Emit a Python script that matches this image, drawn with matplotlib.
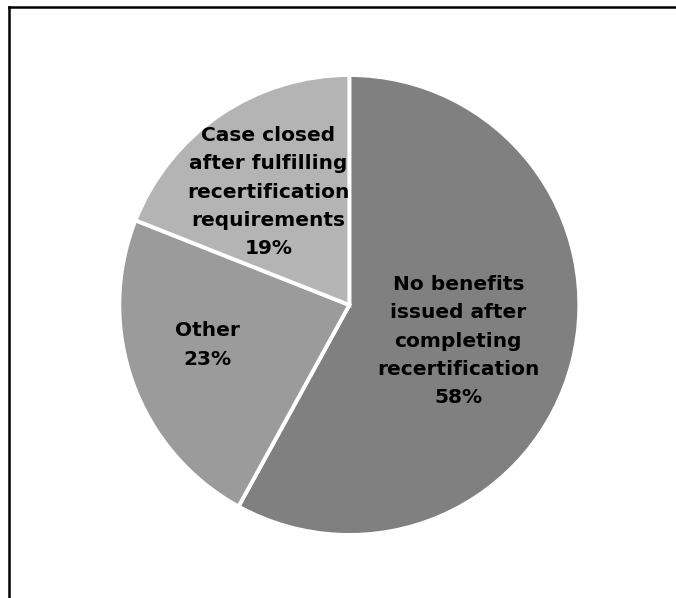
import matplotlib
matplotlib.use('Agg')
import matplotlib.pyplot as plt
from matplotlib.lines import Line2D

# Recertification outcomes
categories = ['No benefits\nissued after\ncompleting\nrecertification',
              'Other',
              'Case closed\nafter fulfilling\nrecertification\nrequirements']
shares = [58, 23, 19]
colors = ['#808080', '#9b9b9b', '#b4b4b4']
# where each label sits, in pie-radius units
label_xy = [(0.474, -0.157), (-0.617, -0.174), (-0.352, 0.491)]

fig = plt.figure(figsize=(6.76, 5.98), dpi=100)
ax = fig.add_axes([0.1765, 0.1054, 0.6805, 0.7692])

ax.pie(shares, colors=colors, startangle=90, counterclock=False,
       wedgeprops=dict(edgecolor='white', linewidth=2.8))
ax.set_xlim(-1, 1)
ax.set_ylim(-1, 1)
ax.set_aspect('auto')

for cat, val, (x, y) in zip(categories, shares, label_xy):
    ax.text(x, y, cat + '\n' + str(val) + '%', ha='center', va='center',
            fontsize=14.5, fontweight='bold', family='DejaVu Sans',
            linespacing=1.62, color='black')

# chart frame (left and top edges)
fig.add_artist(Line2D([0.0135, 0.0135], [0.0, 0.9883], color='black', lw=1.8, transform=fig.transFigure))
fig.add_artist(Line2D([0.0135, 1.0], [0.9883, 0.9883], color='black', lw=1.8, transform=fig.transFigure))

fig.savefig('out.png', dpi=100)
